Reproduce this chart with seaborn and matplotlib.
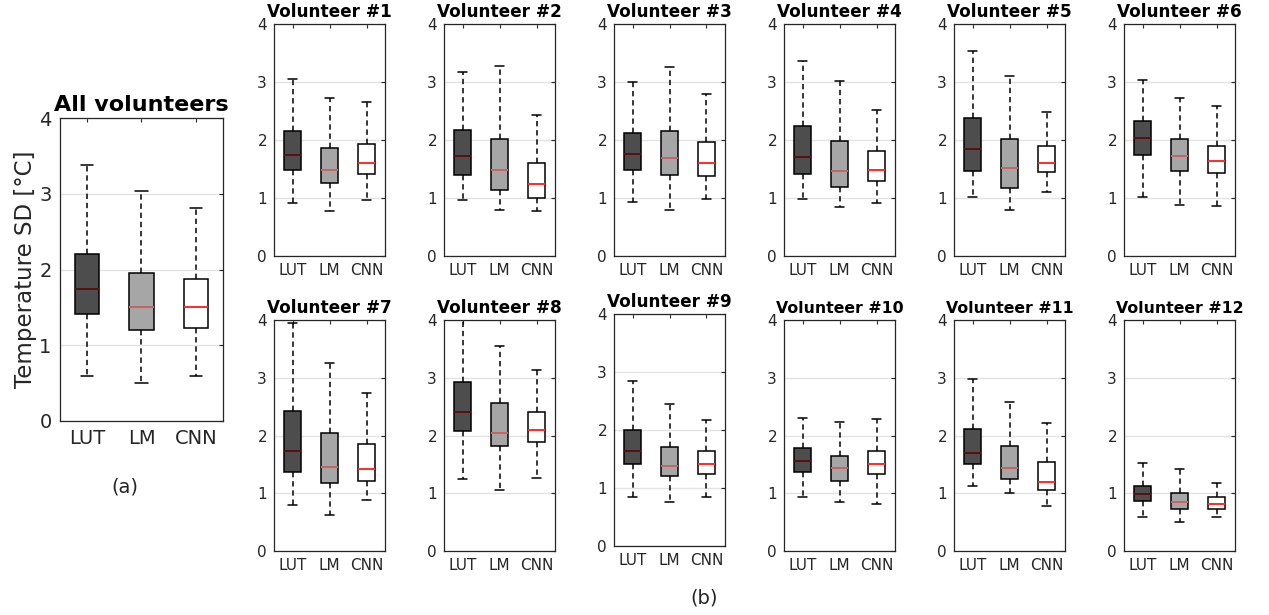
import numpy as np
import pandas as pd
import matplotlib
matplotlib.use('Agg')
import matplotlib.pyplot as plt
import seaborn as sns

# ------------------------------------------------------------
# Data: five-number summaries
# each row = [lower whisker, Q1, median, Q3, upper whisker]
# row 0 = all volunteers, rows 1..12 = volunteer #1..#12
# ------------------------------------------------------------
methods = ['LUT', 'LM', 'CNN']
panel_titles = ['All volunteers'] + ['Volunteer #%d' % i for i in range(1, 13)]

lut_box = [
    [0.60, 1.41, 1.74, 2.21, 3.38],
    [0.91, 1.48, 1.74, 2.16, 3.06],
    [0.97, 1.40, 1.72, 2.17, 3.17],
    [0.93, 1.49, 1.76, 2.12, 3.00],
    [0.98, 1.41, 1.70, 2.24, 3.37],
    [1.02, 1.47, 1.84, 2.38, 3.53],
    [1.01, 1.74, 2.03, 2.33, 3.04],
    [0.79, 1.36, 1.74, 2.43, 3.95],
    [1.25, 2.08, 2.40, 2.92, 4.20],
    [0.85, 1.42, 1.63, 2.00, 2.85],
    [0.94, 1.36, 1.56, 1.79, 2.31],
    [1.12, 1.51, 1.70, 2.12, 2.97],
    [0.59, 0.86, 0.98, 1.13, 1.53],
]
lm_box = [
    [0.50, 1.20, 1.51, 1.96, 3.04],
    [0.78, 1.26, 1.49, 1.87, 2.72],
    [0.80, 1.14, 1.48, 2.01, 3.28],
    [0.80, 1.39, 1.69, 2.15, 3.26],
    [0.84, 1.19, 1.47, 1.98, 3.01],
    [0.80, 1.18, 1.51, 2.01, 3.11],
    [0.88, 1.46, 1.73, 2.02, 2.73],
    [0.62, 1.17, 1.46, 2.05, 3.26],
    [1.06, 1.82, 2.05, 2.57, 3.55],
    [0.76, 1.20, 1.38, 1.71, 2.44],
    [0.85, 1.22, 1.43, 1.65, 2.24],
    [1.01, 1.24, 1.43, 1.82, 2.58],
    [0.50, 0.72, 0.84, 1.01, 1.42],
]
cnn_box = [
    [0.60, 1.23, 1.50, 1.87, 2.81],
    [0.97, 1.41, 1.60, 1.93, 2.66],
    [0.77, 1.00, 1.24, 1.61, 2.43],
    [0.98, 1.38, 1.61, 1.97, 2.79],
    [0.91, 1.30, 1.49, 1.81, 2.52],
    [1.11, 1.44, 1.61, 1.89, 2.48],
    [0.87, 1.43, 1.64, 1.90, 2.59],
    [0.88, 1.21, 1.42, 1.86, 2.73],
    [1.26, 1.88, 2.09, 2.40, 3.14],
    [0.85, 1.24, 1.41, 1.63, 2.17],
    [0.82, 1.33, 1.51, 1.74, 2.28],
    [0.78, 1.05, 1.20, 1.54, 2.22],
    [0.59, 0.73, 0.81, 0.93, 1.17],
]

box_faces = ['#4d4d4d', '#a6a6a6', '#ffffff']
median_colors = ['#5a0f0f', '#c86464', '#ff2a2a']
text_col = '#262626'

# long table: 5 points per box -> quartiles of those points = the box
rows = []
for p in range(len(panel_titles)):
    for m, src in zip(methods, [lut_box, lm_box, cnn_box]):
        for v in src[p]:
            rows.append({'panel': p, 'method': m, 'sd': v})
df = pd.DataFrame(rows)

sns.set_style('white')
plt.rcParams['font.family'] = ['DejaVu Sans']

W, H = 1269, 615
fig = plt.figure(figsize=(W / 100, H / 100), dpi=100)


def px_axes(x0, y0, x1, y1):
    # pixel box (top-left origin) -> figure axes
    return fig.add_axes([x0 / W, (H - y1) / H, (x1 - x0) / W, (y1 - y0) / H])


def draw_panel(ax, p, tick_fs, title_fs, title_pad, tick_pad):
    sub = df[df['panel'] == p]
    for m, face, med in zip(methods, box_faces, median_colors):
        sns.boxplot(data=sub[sub['method'] == m], x='method', y='sd', order=methods,
                    whis=(0, 100), width=0.45, saturation=1, color=face,
                    linecolor='black', linewidth=1.1,
                    medianprops=dict(color=med, linewidth=1.4),
                    whiskerprops=dict(linestyle=(0, (3.5, 2.5)), linewidth=1.1),
                    capprops=dict(linewidth=1.1),
                    ax=ax)
    ax.set_xlim(-0.5, 2.5)
    ax.set_ylim(0, 4)
    ax.set_yticks([0, 1, 2, 3, 4])
    ax.set_xlabel('')
    ax.set_ylabel('')
    ax.yaxis.grid(True, color='#e3e3e3', linewidth=1)
    ax.set_axisbelow(True)
    ax.tick_params(direction='in', top=True, right=True, length=3,
                   labelsize=tick_fs, colors=text_col, width=0.8, pad=tick_pad)
    for s in ax.spines.values():
        s.set_color(text_col)
        s.set_linewidth(0.9)
    ax.set_title(panel_titles[p], fontweight='bold', fontsize=title_fs,
                 pad=title_pad, color='black')


# (a) all volunteers
ax0 = px_axes(60, 118, 223, 421)
draw_panel(ax0, 0, 14, 16, 5, 6)
ax0.set_ylabel('Temperature SD [°C]', fontsize=16.5, color=text_col, labelpad=2)

# (b) per volunteer
lefts = [274, 444, 614, 784, 954, 1124]
for i in range(12):
    r, c = divmod(i, 6)
    x0 = lefts[c]
    if r == 0:
        y0, y1 = 24, 256
    elif i == 8:
        y0, y1 = 314, 546
    else:
        y0, y1 = 320, 551
    ax = px_axes(x0, y0, x0 + 111, y1)
    # two-digit titles a touch smaller so they clear the "4" tick label
    draw_panel(ax, i + 1, 11, 12.2 if i < 9 else 11.3, 4.8, 5)

fig.text(125 / W, 1 - 487 / H, '(a)', ha='center', va='center', fontsize=14, color=text_col)
fig.text(704 / W, 1 - 598 / H, '(b)', ha='center', va='center', fontsize=14, color=text_col)

fig.savefig('out.png', dpi=100)
